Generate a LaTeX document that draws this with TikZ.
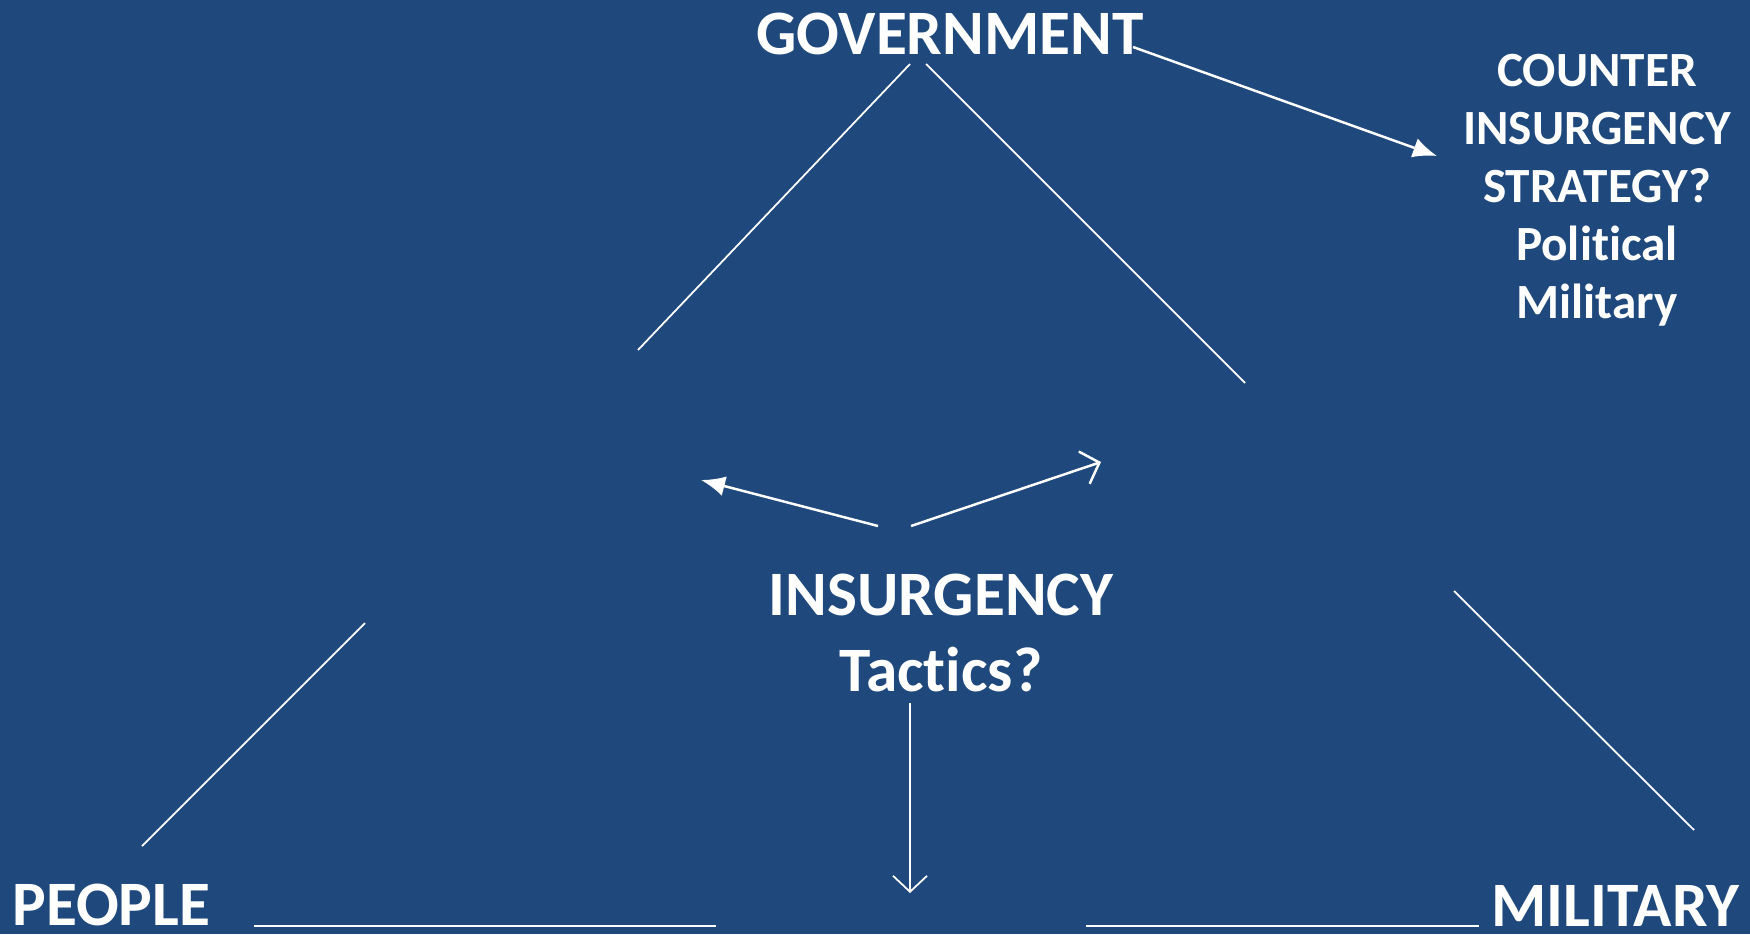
\documentclass[tikz,border=0pt]{standalone}
\usepackage{fontspec}
\setmainfont{Carlito}[Ligatures=NoCommon]
\usetikzlibrary{shapes,arrows.meta}
\definecolor{slideblue}{RGB}{31,73,125}

\begin{document}
\begin{tikzpicture}[
        every node/.style={text=white,inner sep=0pt},
        tri/.style={draw=white,line width=0.5pt},
        pfeil/.style={draw=white,line width=0.7pt},
        voll/.style={-{Latex[length=2.4mm,width=2mm]}},
        offen/.style={-{Straight Barb[length=1.6mm,width=3.4mm]}}]
        % 背景
        \useasboundingbox (0,0) rectangle (17.5,9.34);
        \fill[slideblue] (0,0) rectangle (17.5,9.34);

        % 三方与中间的节点
        \node[anchor=base,font=\fontsize{18}{21}\selectfont\bfseries] (gov) at (9.50,8.80) {GOVERNMENT};
        \node[anchor=base,align=center,font=\fontsize{14}{16.5}\selectfont\bfseries] (coin) at (15.97,6.16)
            {COUNTER\\INSURGENCY\\STRATEGY?\\Political\\Military};
        \node[anchor=base,align=center,font=\fontsize{18}{21.6}\selectfont\bfseries] (ins) at (9.41,2.43)
            {INSURGENCY\\Tactics?};
        \node[anchor=base west,font=\fontsize{18}{21}\selectfont\bfseries] (people) at (0.12,0.09) {PEOPLE};
        \node[anchor=base east,font=\fontsize{18}{21}\selectfont\bfseries] (mil) at (17.40,0.08) {MILITARY};

        % 三角形的各段
        \coordinate (govL) at (9.10,8.70);   \coordinate (midL) at (6.38,5.84);
        \coordinate (govR) at (9.26,8.70);   \coordinate (midR) at (12.45,5.51);
        \coordinate (pplT) at (3.65,3.11);   \coordinate (pplB) at (1.42,0.88);
        \coordinate (milT) at (14.54,3.43);  \coordinate (milB) at (16.94,1.04);
        \coordinate (baseA) at (2.54,0.08);  \coordinate (baseB) at (7.16,0.08);
        \coordinate (baseC) at (10.86,0.08); \coordinate (baseD) at (14.79,0.08);
        \draw[tri] (govL) -- (midL);
        \draw[tri] (govR) -- (midR);
        \draw[tri] (pplT) -- (pplB);
        \draw[tri] (milT) -- (milB);
        \draw[tri] (baseA) -- (baseB);
        \draw[tri] (baseC) -- (baseD);

        % 箭头
        \coordinate (govE) at (11.33,8.87);  \coordinate (coinW) at (14.37,7.78);
        \coordinate (insL) at (8.78,4.08);   \coordinate (tipL) at (7.01,4.54);
        \coordinate (insR) at (9.11,4.08);   \coordinate (tipR) at (11.01,4.72);
        \coordinate (insS) at (9.10,2.31);   \coordinate (tipS) at (9.10,0.41);
        \draw[pfeil,voll] (govE) -- (coinW);
        \draw[pfeil,voll] (insL) -- (tipL);
        \draw[pfeil,offen] (insR) -- (tipR);
        \draw[tri,offen] (insS) -- (tipS);
    \end{tikzpicture}
\end{document}
